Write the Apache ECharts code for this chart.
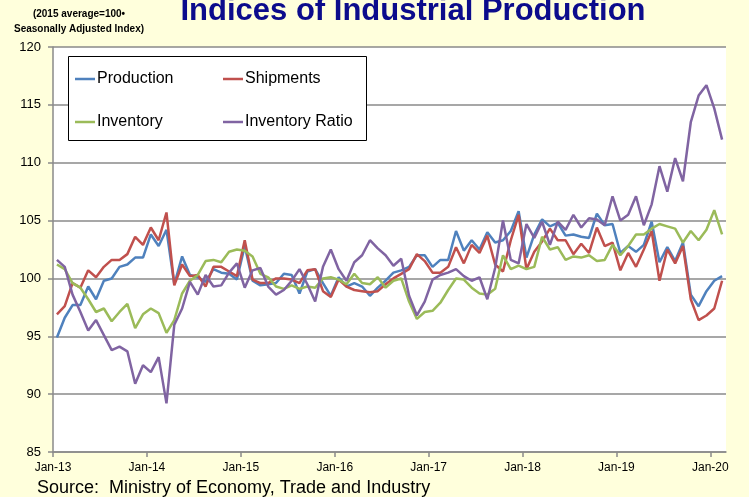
<!DOCTYPE html>
<html>
<head>
<meta charset="utf-8">
<script src="https://cdn.jsdelivr.net/npm/echarts@6/dist/echarts.min.js"></script>
<style>
  html, body { margin: 0; padding: 0; background: #ffffdc; }
  #chart { width: 749px; height: 497px; }
</style>
</head>
<body>
<div id="chart"></div>
<script>
// Monthly indices, Jan-2013 .. Feb-2020 (2015 average = 100, seasonally adjusted)
const yearLabels = ['Jan-13', 'Jan-14', 'Jan-15', 'Jan-16', 'Jan-17', 'Jan-18', 'Jan-19', 'Jan-20'];

const production = [
  94.9, 96.6, 97.7, 97.7, 99.3, 98.2, 99.8, 100.0, 101.0, 101.2, 101.8, 101.8,
  103.8, 102.8, 104.2, 99.5, 101.9, 100.3, 100.1, 99.7, 100.8, 100.5, 100.4, 99.9,
  102.8, 99.8, 99.4, 99.5, 99.6, 100.4, 100.3, 98.7, 100.6, 100.8, 99.6, 98.5,
  100.1, 99.3, 99.6, 99.3, 98.5, 99.2, 99.8, 100.5, 100.7, 101.0, 102.0, 102.0,
  101.0, 101.6, 101.6, 104.1, 102.4, 103.3, 102.5, 104.0, 103.1, 103.3, 104.1, 105.8,
  101.8, 103.8, 105.1, 104.5, 104.8, 103.7, 103.8, 103.6, 103.5, 105.6, 104.6, 104.7,
  102.2, 102.8, 102.3, 102.9, 104.9, 101.4, 102.7, 101.5, 103.1, 98.6, 97.6, 98.9,
  99.8, 100.2
];

const shipments = [
  96.9, 97.6, 99.6, 99.2, 100.7, 100.1, 101.0, 101.6, 101.6, 102.1, 103.6, 102.9,
  104.4, 103.3, 105.7, 99.4, 101.2, 100.2, 100.3, 99.3, 101.0, 101.0, 100.6, 100.2,
  103.3, 99.9, 99.6, 99.6, 100.0, 100.0, 99.9, 99.6, 100.7, 100.8, 98.9, 98.4,
  99.9, 99.3, 99.0, 98.9, 98.8, 98.9, 99.5, 100.0, 100.4, 100.8, 102.1, 101.5,
  100.5, 100.5, 101.0, 102.7, 101.3, 102.9, 102.2, 103.7, 101.2, 100.6, 103.3, 105.5,
  100.8, 102.3, 103.2, 104.3, 103.3, 103.3, 102.1, 103.0, 102.2, 104.4, 102.8, 103.1,
  100.7, 102.2, 101.0, 102.5, 104.1, 99.8, 102.5, 101.3, 102.8, 98.2, 96.4, 96.8,
  97.4, 99.8
];

const inventory = [
  101.2, 100.8, 99.6, 99.2, 98.2, 97.1, 97.4, 96.3, 97.1, 97.8, 95.7, 96.9,
  97.4, 97.0, 95.3, 96.4, 98.7, 99.8, 100.3, 101.5, 101.6, 101.4, 102.3, 102.5,
  102.4, 101.9, 100.4, 100.1, 99.3, 99.1, 99.4, 99.1, 99.3, 99.2, 100.0, 100.1,
  99.9, 99.5, 100.4, 99.6, 99.5, 100.1, 99.2, 99.8, 100.0, 98.0, 96.5, 97.1,
  97.2, 97.9, 99.0, 100.0, 99.9, 99.2, 98.7, 98.6, 99.1, 102.0, 100.8, 101.1,
  100.8, 101.0, 103.6, 102.5, 102.7, 101.6, 101.9, 101.8, 102.0, 101.5, 101.6, 102.9,
  102.0, 102.8, 103.8, 103.8, 104.3, 104.7, 104.5, 104.3, 103.1, 104.1, 103.3, 104.2,
  105.9, 103.8
];

const inventoryRatio = [
  101.6, 101.0, 98.6, 97.1, 95.5, 96.4, 95.1, 93.8, 94.1, 93.7, 90.9, 92.5,
  91.9, 93.2, 89.2, 96.0, 97.4, 99.7, 98.6, 100.3, 99.3, 99.4, 100.5, 101.3,
  99.2, 100.7, 100.9, 99.3, 98.6, 99.0, 99.8, 100.8, 99.5, 98.0, 101.0, 102.5,
  100.8, 99.8, 101.4, 102.0, 103.3, 102.6, 102.0, 101.1, 101.7, 98.5, 96.8, 98.0,
  99.9, 100.3, 100.5, 100.8, 100.2, 99.8, 100.1, 98.2, 100.9, 105.0, 101.6, 101.3,
  104.7, 103.5, 104.9, 102.9, 104.9, 104.2, 105.5, 104.4, 105.2, 105.1, 104.6, 107.1,
  105.0, 105.5, 107.1, 104.6, 106.4, 109.7, 107.5, 110.4, 108.4, 113.5, 115.8, 116.7,
  114.7, 112.0
];

const seriesDefs = [
  { name: 'Production', data: production, color: '#4f81bd' },
  { name: 'Shipments', data: shipments, color: '#c0504d' },
  { name: 'Inventory', data: inventory, color: '#9bbb59' },
  { name: 'Inventory Ratio', data: inventoryRatio, color: '#8064a2' }
];

// each month sits in the middle of its slot on a month-numbered axis
const toPoints = arr => arr.map((v, i) => [i + 0.5, v]);
const yearTicks = yearLabels.map((_, k) => k * 12);
const monthCount = production.length;

const chart = echarts.init(document.getElementById('chart'), null, { renderer: 'canvas' });

const legendCommon = {
  orient: 'vertical',
  icon: 'rect',
  padding: 0,
  itemWidth: 20,
  itemHeight: 2.5,
  itemGap: 25,
  z: 20,
  textStyle: { fontFamily: 'Liberation Sans', fontSize: 16, color: '#000', padding: [0, 0, 0, -3], lineHeight: 18 },
  selectedMode: false
};

chart.setOption({
  backgroundColor: '#ffffdc',
  animation: false,
  title: [
    {
      text: 'Indices of Industrial Production',
      left: 413, top: -4, textAlign: 'center', padding: 0,
      textStyle: { fontFamily: 'Liberation Sans', fontWeight: 'bold', fontSize: 31, color: '#0c0c8c' }
    },
    {
      text: '(2015 average=100\u2022\nSeasonally Adjusted Index)',
      left: 79, top: 7, textAlign: 'center', padding: 0,
      textStyle: { fontFamily: 'Liberation Sans', fontWeight: 'bold', fontSize: 10, lineHeight: 15, color: '#000' }
    },
    {
      text: 'Source:  Ministry of Economy, Trade and Industry',
      left: 37, top: 479, padding: 0,
      textStyle: { fontFamily: 'Liberation Sans', fontWeight: 'normal', fontSize: 18, color: '#000' }
    }
  ],
  grid: {
    left: 53, right: 23, top: 47, bottom: 45,
    show: true, backgroundColor: '#ffffff', borderWidth: 0
  },
  legend: [
    Object.assign({ left: 75, top: 70, data: ['Production', 'Inventory'] }, legendCommon),
    Object.assign({ left: 223, top: 70, data: ['Shipments', 'Inventory Ratio'] }, legendCommon)
  ],
  graphic: [
    {
      type: 'rect', left: 68, top: 56, z: 1,
      shape: { width: 298, height: 84 },
      style: { fill: '#ffffff', stroke: '#000000', lineWidth: 1 }
    }
  ],
  xAxis: {
    type: 'value', min: 0, max: monthCount, interval: 12,
    axisLine: { show: true, lineStyle: { color: '#8a8a8a', width: 1.5 } },
    axisTick: { show: true, length: 5, customValues: yearTicks, lineStyle: { color: '#8a8a8a', width: 1.5 } },
    axisLabel: {
      customValues: yearTicks, margin: 10,
      formatter: v => yearLabels[Math.round(v / 12)] || '',
      fontFamily: 'Liberation Sans', fontSize: 12, color: '#000'
    },
    splitLine: { show: false }
  },
  yAxis: {
    type: 'value', min: 85, max: 120, interval: 5,
    axisLine: { show: true, lineStyle: { color: '#8a8a8a', width: 1.5 } },
    axisTick: { show: true, length: 5, lineStyle: { color: '#8a8a8a', width: 1.5 } },
    axisLabel: { margin: 12, fontFamily: 'Liberation Sans', fontSize: 13, color: '#000' },
    splitLine: { show: true, lineStyle: { color: '#8a8a8a', width: 1.5 } }
  },
  series: seriesDefs.map(s => ({
    name: s.name,
    type: 'line',
    data: toPoints(s.data),
    showSymbol: false,
    symbol: 'none',
    lineStyle: { color: s.color, width: 2.5 },
    itemStyle: { color: s.color },
    z: 3
  }))
});
</script>
</body>
</html>
